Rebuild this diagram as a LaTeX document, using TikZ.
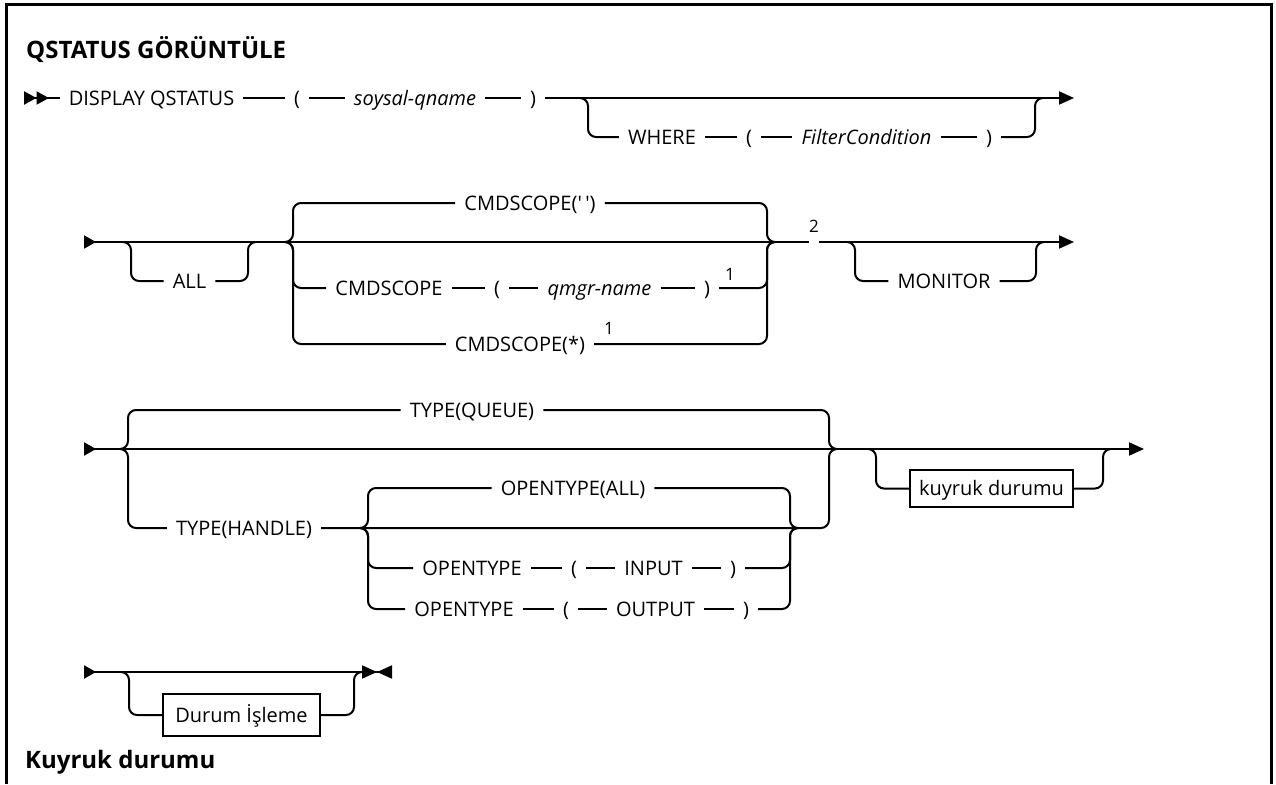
\documentclass[tikz,border=0pt]{standalone}
\usepackage{fontspec}
\setmainfont{Open Sans}
\usetikzlibrary{arrows.meta, positioning}

\begin{document}
\begin{tikzpicture}[
    x=1pt, y=-1pt,
    font=\fontsize{20}{24}\selectfont,
    % Core Shapes
    kw/.style={inner xsep=9pt, inner ysep=0pt, text height=14pt, text depth=0pt},
    var/.style={kw, font=\fontsize{20}{24}\selectfont\itshape},
    note/.style={inner sep=0pt, font=\fontsize{17}{20}\selectfont},
    refbox/.style={rectangle, draw, line width=2pt, inner xsep=9pt, inner ysep=0pt, text height=14pt, text depth=0pt, minimum height=37pt},
    heading/.style={anchor=base west, inner sep=0pt, font=\fontsize{24}{28}\selectfont\bfseries},
    frame/.style={line width=2.5pt},
    % Connectors
    rail/.style={line width=2pt, rounded corners=8pt},
    railfirst/.style={rail, {Triangle[reversed, length=12.5pt, width=13pt] Triangle[reversed, length=12.5pt, width=13pt]}-},
    railin/.style={rail, {Triangle[reversed, length=12pt, width=13pt]}-},
    railout/.style={rail, -{Triangle[length=15pt, width=13pt]}},
    railinout/.style={rail, {Triangle[reversed, length=12pt, width=13pt]}-{Triangle[length=15pt, width=13pt]}},
    railinstop/.style={rail, {Triangle[reversed, length=12pt, width=13pt]}-{Triangle[length=15pt, width=13pt] Triangle[reversed, length=15pt, width=13pt]}},
]
\useasboundingbox (0,0) rectangle (1276,784);

% 0. Frame and headings
\draw[frame] (6.5,784) -- (6.5,4.5) -- (1271.5,4.5) -- (1271.5,784);
\node[heading] (title) at (26,59) {QSTATUS GÖRÜNTÜLE};
\node[heading] (subtitle) at (25,768) {Kuyruk durumu};

% 1. DISPLAY QSTATUS row
\coordinate (r1s) at (24,98);
\coordinate (r1e) at (1074,98);
\node[kw] (display) at (151.5,98) {DISPLAY QSTATUS};
\node[kw] (lp1) at (297,98) {(};
\node[var] (qname) at (415,98) {soysal-qname};
\node[kw] (rp1) at (533,98) {)};

\coordinate (w1) at (588,98);
\coordinate (w2) at (1035,98);
\node[kw] (where) at (662,137) {WHERE};
\node[kw] (lp2) at (749,137) {(};
\node[var] (filter) at (866.5,137) {FilterCondition};
\node[kw] (rp2) at (989,137) {)};

\draw[railfirst] (r1s) -- (display);
\draw[rail] (display) -- (lp1);
\draw[rail] (lp1) -- (qname);
\draw[rail] (qname) -- (rp1);
\draw[railout] (rp1) -- (r1e);

\draw[rail] ([xshift=-8pt]w1) -- (w1) |- (where);
\draw[rail] (where) -- (lp2);
\draw[rail] (lp2) -- (filter);
\draw[rail] (filter) -- (rp2);
\draw[rail] (rp2) -| (w2) -- ([xshift=8pt]w2);

% 2. ALL / CMDSCOPE / MONITOR row
\coordinate (r2s) at (84,242);
\coordinate (r2e) at (1074,242);
\node[note] (two) at (814,226) {2};
\draw[railin] (r2s) -- (two.west |- r2s);
\draw[railout] (two.east |- r2s) -- (r2e);

\coordinate (a1) at (131,242);
\coordinate (a2) at (248,242);
\node[kw] (all) at (189.5,281) {ALL};
\draw[rail] ([xshift=-8pt]a1) -- (a1) |- (all);
\draw[rail] (all) -| (a2) -- ([xshift=8pt]a2);

\coordinate (c1) at (293,242);
\coordinate (c2) at (767,242);
\node[kw] (cdef) at (530,203) {CMDSCOPE(\textquotesingle\,\textquotesingle)};
\node[kw] (cmd) at (389,288) {CMDSCOPE};
\node[kw] (lp3) at (497,288) {(};
\node[var] (qmgr) at (599.5,288) {qmgr-name};
\node[kw] (rp3) at (707,288) {)};
\node[note] (one a) at (730,274) {1};
\node[kw] (cstar) at (520,344) {CMDSCOPE(*)};
\node[note] (one b) at (609,328) {1};

\draw[rail] ([xshift=-8pt]c1) -- (c1) |- (cdef);
\draw[rail] (cdef) -| (c2) -- ([xshift=8pt]c2);
\draw[rail] ([xshift=-8pt]c1) -- (c1) |- (cmd);
\draw[rail] (cmd) -- (lp3);
\draw[rail] (lp3) -- (qmgr);
\draw[rail] (qmgr) -- (rp3);
\draw[rail] (rp3) -| (c2) -- ([xshift=8pt]c2);
\draw[rail] ([xshift=-8pt]c1) -- (c1) |- (cstar);
\draw[rail] (cstar) -| (c2) -- ([xshift=8pt]c2);

\coordinate (m1) at (855,242);
\coordinate (m2) at (1036,242);
\node[kw] (monitor) at (944,281) {MONITOR};
\draw[rail] ([xshift=-8pt]m1) -- (m1) |- (monitor);
\draw[rail] (monitor) -| (m2) -- ([xshift=8pt]m2);

% 3. TYPE row
\coordinate (r3s) at (84,449);
\coordinate (r3e) at (1144,449);
\draw[railinout] (r3s) -- (r3e);

\coordinate (t1) at (128,449);
\coordinate (t2) at (829,449);
\node[kw] (tqueue) at (472,410) {TYPE(QUEUE)};
\node[kw] (thandle) at (244,528) {TYPE(HANDLE)};
\draw[rail] ([xshift=-8pt]t1) -- (t1) |- (tqueue);
\draw[rail] (tqueue) -| (t2) -- ([xshift=8pt]t2);
\draw[rail] ([xshift=-8pt]t1) -- (t1) |- (thandle);

\coordinate (o1) at (368,528);
\coordinate (o2) at (790,528);
\node[kw] (oall) at (573,488) {OPENTYPE(ALL)};
\node[kw] (oin) at (472,568) {OPENTYPE};
\node[kw] (lp4) at (574,568) {(};
\node[kw] (input) at (653.5,568) {INPUT};
\node[kw] (rp4) at (733,568) {)};
\node[kw] (oout) at (464,609) {OPENTYPE};
\node[kw] (lp5) at (566,609) {(};
\node[kw] (output) at (655.5,609) {OUTPUT};
\node[kw] (rp5) at (746,609) {)};

\draw[rail] (thandle) -- (o2) -| (t2) -- ([xshift=8pt]t2);
\draw[rail] ([xshift=-8pt]o1) -- (o1) |- (oall);
\draw[rail] (oall) -| (o2) -- ([xshift=8pt]o2);
\draw[rail] ([xshift=-8pt]o1) -- (o1) |- (oin);
\draw[rail] (oin) -- (lp4);
\draw[rail] (lp4) -- (input);
\draw[rail] (input) -- (rp4);
\draw[rail] (rp4) -| (o2) -- ([xshift=8pt]o2);
\draw[rail] ([xshift=-8pt]o1) -- (o1) |- (oout);
\draw[rail] (oout) -- (lp5);
\draw[rail] (lp5) -- (output);
\draw[rail] (output) -- (rp5);
\draw[rail] (rp5) -| (o2) -- ([xshift=8pt]o2);

\coordinate (k1) at (876,449);
\coordinate (k2) at (1103,449);
\node[refbox] (queue) at (991.5,488.5) {kuyruk durumu};
\draw[rail] ([xshift=-8pt]k1) -- (k1) |- (queue);
\draw[rail] (queue) -| (k2) -- ([xshift=8pt]k2);

% 4. Status handling row
\coordinate (r4s) at (84,672);
\coordinate (r4e) at (392,672);
\draw[railinstop] (r4s) -- (r4e);

\coordinate (d1) at (129,672);
\coordinate (d2) at (354,672);
\node[refbox, inner xsep=12pt, minimum height=42pt] (handling) at (241.5,715) {Durum İşleme};
\draw[rail] ([xshift=-8pt]d1) -- (d1) |- (handling);
\draw[rail] (handling) -| (d2) -- ([xshift=8pt]d2);

\end{tikzpicture}
\end{document}
